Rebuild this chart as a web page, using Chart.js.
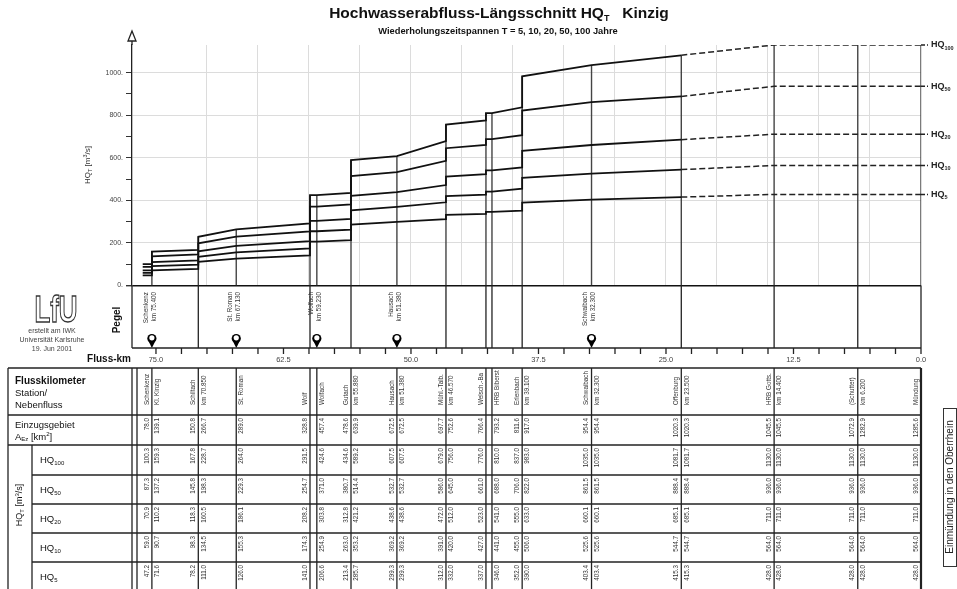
<!DOCTYPE html>
<html><head><meta charset="utf-8">
<script src="https://cdn.jsdelivr.net/npm/chart.js@4/dist/chart.umd.min.js"></script>
<style>html,body{margin:0;padding:0;background:#fff;overflow:hidden}canvas{display:block}</style>
</head><body>
<canvas id="c" width="957" height="589"></canvas>
<script>
// ---------------- data ----------------
const nodeKm = [75.4, 70.85, 67.13, 59.9, 59.23, 55.88, 51.38, 46.57, 42.65, 42.06, 39.1, 32.3, 23.5, 14.4, 6.2, 0.0];
const nodeIsPegel = [true, false, true, false, true, false, true, false, false, false, false, true, false, false, false, false];
const columnLabels = ["Schenkenz","Kl. Kinzig","Schiltach","km 70.850","St. Roman","Wolf","Wolfach","Gutach","km 55.880","Hausach","km 51.380","Mühl.-Talb.","km 46.570","Welsch.-Ba","HRB Biberst","Erlenbach","km 39.100","Schwaibach","km 32.300","Offenburg","km 23.500","HRB Gotts.","km 14.400","(Schutter)","km 6.200","Mündung"];
const columnNode = [0,0,1,1,2,3,4,5,5,6,6,7,7,8,9,10,10,11,11,12,12,13,13,14,14,15];
const columnSide = ["up","down","up","down","down","up","down","up","down","up","down","up","down","up","down","up","down","up","down","up","down","up","down","up","down","up"];
const ezg   = [78.0,139.1,150.8,266.7,289.0,328.8,457.4,478.6,639.9,672.5,672.5,697.7,752.6,766.4,793.2,811.6,917.0,954.4,954.4,1020.3,1020.3,1045.5,1045.5,1072.9,1282.9,1285.6];
const hq100 = [100.3,159.3,167.8,228.7,264.0,291.5,424.6,434.6,589.2,607.5,607.5,679.0,756.0,776.0,810.0,837.0,983.0,1035.0,1035.0,1081.7,1081.7,1130.0,1130.0,1130.0,1130.0,1130.0];
const hq50  = [87.3,137.2,145.8,198.3,229.3,254.7,371.0,380.7,514.4,532.7,532.7,586.0,645.0,661.0,688.0,706.0,822.0,861.5,861.5,888.4,888.4,936.0,936.0,936.0,936.0,936.0];
const hq20  = [70.9,110.2,118.3,160.5,186.1,208.2,303.8,312.8,421.2,438.6,438.6,472.0,512.0,523.0,541.0,555.0,633.0,660.1,660.1,685.1,685.1,711.0,711.0,711.0,711.0,711.0];
const hq10  = [59.0,90.7,98.3,134.5,155.3,174.3,254.9,263.0,353.2,369.2,369.2,391.0,420.0,427.0,441.0,455.0,506.0,525.6,525.6,544.7,544.7,564.0,564.0,564.0,564.0,564.0];
const hq5   = [47.2,71.6,78.2,111.0,126.0,141.0,206.6,213.4,285.7,299.3,299.3,312.0,332.0,337.0,346.0,352.0,390.0,403.4,403.4,415.3,415.3,428.0,428.0,428.0,428.0,428.0];
const seriesSub = ["100","50","20","10","5"];
const startKm = 76.3;      // upstream start of profile
const dashFromKm = 23.5;   // profile is dashed downstream of this km
const pegelNames = ["Schenkenz","St. Roman","Wolfach","Hausach","Schwaibach"];
const pegelKmText = ["km 75.400","km 67.130","km 59.230","km 51.380","km 32.300"];
const pegelKm = [75.4, 67.13, 59.23, 51.38, 32.3];
const yTickValues = [0, 200, 400, 600, 800, 1000];
const yTickLabels = ["0.", "200.", "400.", "600.", "800.", "1000."];
const fkmTickValues = [75, 62.5, 50, 37.5, 25, 12.5, 0];
const fkmTickLabels = ["75.0", "62.5", "50.0", "37.5", "25.0", "12.5", "0.0"];

// ---------------- build datasets ----------------
const FONT = '"Liberation Sans", Arial, sans-serif';
function profile(vals) {
  const pts = [{x: startKm, y: vals[0]}];
  for (let i = 0; i < vals.length; i++) {
    const km = nodeKm[columnNode[i]];
    pts.push({x: km, y: vals[i]});
    if (columnSide[i] === 'up' && i + 1 < vals.length && columnSide[i+1] === 'down' && columnNode[i+1] !== columnNode[i]) {
      pts.push({x: km, y: vals[i+1]});
    }
  }
  return pts;
}
const allSeries = [hq100, hq50, hq20, hq10, hq5];
const profiles = allSeries.map(profile);
const datasets = [];
profiles.forEach((p, i) => {
  datasets.push({label: 'HQ' + seriesSub[i], data: p.filter(q => q.x >= dashFromKm), borderColor: '#111', borderWidth: 1.8, pointRadius: 0, tension: 0, fill: false});
  datasets.push({label: 'HQ' + seriesSub[i] + ' (proj.)', data: p.filter(q => q.x <= dashFromKm), borderColor: '#222', borderWidth: 1.5, borderDash: [6, 3], pointRadius: 0, tension: 0, fill: false});
});
const vData = [];
nodeKm.forEach(km => {
  const top = Math.max(...profiles[0].filter(q => q.x === km).map(q => q.y));
  vData.push({x: km, y: 0}, {x: km, y: top}, {x: km, y: null});
});
datasets.push({label: 'Knoten', data: vData, borderColor: '#444', borderWidth: 1.4, pointRadius: 0, spanGaps: false, fill: false});

// ---------------- drawing helpers ----------------
function rich(ctx, parts, x, y, align) {
  let w = 0;
  parts.forEach(p => { ctx.font = p.f; w += ctx.measureText(p.t).width; });
  let cx = align === 'center' ? x - w / 2 : (align === 'right' ? x - w : x);
  ctx.textAlign = 'left';
  parts.forEach(p => { ctx.font = p.f; ctx.fillText(p.t, cx, y + (p.dy || 0)); cx += ctx.measureText(p.t).width; });
}
function vtext(ctx, text, x, y, align, font, color) {
  ctx.save(); ctx.translate(x, y); ctx.rotate(-Math.PI / 2);
  ctx.font = font; ctx.fillStyle = color || '#222'; ctx.textAlign = align; ctx.textBaseline = 'middle';
  ctx.fillText(text, 0, 0); ctx.restore();
}
function line(ctx, x1, y1, x2, y2) { ctx.beginPath(); ctx.moveTo(x1, y1); ctx.lineTo(x2, y2); ctx.stroke(); }

const decor = {
  id: 'decor',
  afterDraw(chart) {
    const ctx = chart.ctx, xs = chart.scales.x, ys = chart.scales.y, A = chart.chartArea;
    const X = km => xs.getPixelForValue(km);
    ctx.save();
    ctx.fillStyle = '#111'; ctx.strokeStyle = '#111';
    // title
    ctx.textBaseline = 'alphabetic';
    rich(ctx, [{t: 'Hochwasserabfluss-Längsschnitt HQ', f: 'bold 15.5px ' + FONT}, {t: 'T', f: 'bold 9px ' + FONT, dy: 3}, {t: '   Kinzig', f: 'bold 15.5px ' + FONT}], 499, 18, 'center');
    rich(ctx, [{t: 'Wiederholungszeitspannen T = 5, 10, 20, 50, 100 Jahre', f: 'bold 9.3px ' + FONT}], 498, 34, 'center');
    // y axis extension + arrow
    ctx.lineWidth = 1.3; ctx.strokeStyle = '#222';
    line(ctx, A.left, A.top, A.left, 41);
    ctx.beginPath(); ctx.moveTo(A.left, 31); ctx.lineTo(A.left - 4, 41); ctx.lineTo(A.left + 4, 41); ctx.closePath(); ctx.stroke();
    // y title
    ctx.save(); ctx.translate(88, 165); ctx.rotate(-Math.PI / 2); ctx.fillStyle = '#333'; ctx.textBaseline = 'middle';
    rich(ctx, [{t: 'HQ', f: '8px ' + FONT}, {t: 'T', f: '5.5px ' + FONT, dy: 2}, {t: ' [m', f: '8px ' + FONT}, {t: '3', f: '5.5px ' + FONT, dy: -2.5}, {t: '/s]', f: '8px ' + FONT}], 0, 0, 'center');
    ctx.restore();
    // right labels of the profiles
    ctx.fillStyle = '#222'; ctx.textBaseline = 'middle'; ctx.strokeStyle = '#222'; ctx.lineWidth = 1.5;
    allSeries.forEach((s, i) => {
      const y = ys.getPixelForValue(s[s.length - 1]);
      ctx.setLineDash([4, 2]); line(ctx, A.right, y, A.right + 7, y); ctx.setLineDash([]);
      rich(ctx, [{t: 'HQ', f: 'bold 9px ' + FONT}, {t: seriesSub[i], f: 'bold 5.5px ' + FONT, dy: 3}], A.right + 10, y, 'left');
    });
    // Pegel box
    const pTop = A.bottom, pBot = 348;
    ctx.strokeStyle = '#222'; ctx.lineWidth = 1.3;
    line(ctx, A.left, pTop, A.left, pBot);
    nodeKm.forEach((km, n) => { if (!nodeIsPegel[n]) line(ctx, X(km), pTop, X(km), pBot); });
    pegelKm.forEach((km, i) => {
      const x = X(km);
      vtext(ctx, pegelNames[i], x - 6, 292, 'right', '6.3px ' + FONT, '#333');
      vtext(ctx, pegelKmText[i], x + 2, 292, 'right', '6.3px ' + FONT, '#333');
      ctx.fillStyle = '#000';
      ctx.beginPath(); ctx.arc(x, 338.5, 4.6, 0, Math.PI * 2); ctx.fill();
      ctx.beginPath(); ctx.moveTo(x - 3.2, 341.5); ctx.lineTo(x + 3.2, 341.5); ctx.lineTo(x, 348); ctx.closePath(); ctx.fill();
      ctx.fillStyle = '#fff'; ctx.beginPath(); ctx.arc(x, 337.8, 2.6, 0, Math.PI * 2); ctx.fill();
    });
    vtext(ctx, 'Pegel', 117, 320, 'center', 'bold 10px ' + FONT, '#111');
    // Fluss-km axis
    ctx.strokeStyle = '#222'; ctx.lineWidth = 1.3;
    line(ctx, A.left, pBot, A.right, pBot);
    for (let km = 0; km <= xs.max; km += 2.5) { const x = X(km); line(ctx, x, pBot, x, pBot + 6); }
    ctx.fillStyle = '#444'; ctx.font = '7.5px ' + FONT; ctx.textAlign = 'center'; ctx.textBaseline = 'middle';
    fkmTickValues.forEach((v, i) => ctx.fillText(fkmTickLabels[i], X(v), 359.5));
    ctx.fillStyle = '#111'; ctx.font = 'bold 10px ' + FONT; ctx.textAlign = 'right';
    ctx.fillText('Fluss-km', 131, 359);
    // Logo + credits
    ctx.save(); ctx.translate(56, 322); ctx.scale(0.72, 1.05);
    ctx.strokeStyle = '#333'; ctx.lineWidth = 1.3; ctx.font = 'bold 36px ' + FONT; ctx.textAlign = 'center'; ctx.textBaseline = 'alphabetic';
    ctx.strokeText('LfU', 0, 0);
    ctx.restore();
    ctx.fillStyle = '#444'; ctx.font = '7px ' + FONT; ctx.textAlign = 'center'; ctx.textBaseline = 'middle';
    ctx.fillText('erstellt am IWK', 52, 331); ctx.fillText('Universität Karlsruhe', 52, 340); ctx.fillText('19. Jun 2001', 52, 349);
    // Table
    const rows = [368, 415, 445, 475, 504, 533, 562, 591];
    ctx.strokeStyle = '#222'; ctx.lineWidth = 1.3;
    line(ctx, 8, 368, A.right, 368); line(ctx, 8, 415, A.right, 415); line(ctx, 8, 445, A.right, 445);
    for (let r = 3; r < 7; r++) line(ctx, 32, rows[r], A.right, rows[r]);
    line(ctx, 8, 368, 8, 591); line(ctx, 32, 445, 32, 591); line(ctx, 132, 368, 132, 591); line(ctx, 137, 368, 137, 591);
    nodeKm.forEach(km => line(ctx, X(km), 368, X(km), 591));
    ctx.lineWidth = 2.2; line(ctx, A.right, 368, A.right, 591);
    // table header labels
    ctx.fillStyle = '#111'; ctx.textAlign = 'left'; ctx.textBaseline = 'middle';
    ctx.font = 'bold 10px ' + FONT; ctx.fillText('Flusskilometer', 15, 381);
    ctx.font = '9.5px ' + FONT; ctx.fillText('Station/', 15, 393); ctx.fillText('Nebenfluss', 15, 405);
    ctx.fillText('Einzugsgebiet', 15, 425);
    rich(ctx, [{t: 'A', f: '9.5px ' + FONT}, {t: 'Ez', f: '6px ' + FONT, dy: 2.5}, {t: ' [km', f: '9.5px ' + FONT}, {t: '2', f: '6px ' + FONT, dy: -3}, {t: ']', f: '9.5px ' + FONT}], 15, 437, 'left');
    seriesSub.forEach((s, i) => {
      const yc = (rows[2 + i] + rows[3 + i]) / 2 + 0.5;
      rich(ctx, [{t: 'HQ', f: '9.5px ' + FONT}, {t: s, f: '6px ' + FONT, dy: 3}], 40, yc, 'left');
    });
    ctx.save(); ctx.translate(20, 505); ctx.rotate(-Math.PI / 2); ctx.textBaseline = 'middle'; ctx.fillStyle = '#111';
    rich(ctx, [{t: 'HQ', f: '9px ' + FONT}, {t: 'T', f: '6px ' + FONT, dy: 2.5}, {t: ' [m', f: '9px ' + FONT}, {t: '3', f: '6px ' + FONT, dy: -3}, {t: '/s]', f: '9px ' + FONT}], 0, 0, 'center');
    ctx.restore();
    // table columns
    const rowVals = [ezg, hq100, hq50, hq20, hq10, hq5];
    columnLabels.forEach((lab, i) => {
      const cx = X(nodeKm[columnNode[i]]) + (columnSide[i] === 'up' ? -5 : 5.5);
      ctx.save(); ctx.beginPath(); ctx.rect(cx - 6, 369, 12, 46); ctx.clip();
      vtext(ctx, lab, cx, 405, 'left', '6.3px ' + FONT, '#333');
      ctx.restore();
      rowVals.forEach((arr, r) => vtext(ctx, arr[i].toFixed(1), cx, rows[1 + r] + 3, 'right', '6.3px ' + FONT, '#333'));
    });
    // Einmündung box
    ctx.strokeStyle = '#333'; ctx.lineWidth = 1;
    ctx.strokeRect(943.5, 408.5, 13, 158);
    vtext(ctx, 'Einmündung in den Oberrhein', 950, 487, 'center', '10px ' + FONT, '#222');
    ctx.restore();
  }
};

new Chart(document.getElementById('c'), {
  type: 'line',
  data: {datasets},
  options: {
    responsive: false, animation: false, devicePixelRatio: 1,
    layout: {padding: {left: 0, right: 36, top: 45, bottom: 303.5}},
    plugins: {legend: {display: false}, title: {display: false}, tooltip: {enabled: false}},
    scales: {
      x: {
        type: 'linear', reverse: true, min: 0, max: 77.35,
        ticks: {display: false, stepSize: 5},
        afterBuildTicks: s => { s.ticks = s.ticks.filter(t => Math.abs(t.value % 5) < 1e-6); },
        afterFit: s => { s.height = 0; },
        grid: {color: '#dcdcdc', lineWidth: 1, drawTicks: false},
        border: {display: false}
      },
      y: {
        type: 'linear', min: 0, max: 1130,
        ticks: {stepSize: 100, autoSkip: false, color: '#444', font: {size: 7, family: FONT}, padding: 3,
          callback: v => { const i = yTickValues.indexOf(v); return i >= 0 ? yTickLabels[i] : ''; }},
        afterBuildTicks: s => { s.ticks = s.ticks.filter(t => t.value % 100 === 0); },
        afterFit: s => { s.width = 132; },
        grid: {
          color: c => c.tick && c.tick.value === 0 ? '#111' : (c.tick && c.tick.value % 200 === 0 ? '#dcdcdc' : 'rgba(0,0,0,0)'),
          lineWidth: c => c.tick && c.tick.value === 0 ? 1.4 : 1,
          tickColor: '#333', tickLength: 6
        },
        border: {display: true, color: '#222', width: 1.3}
      }
    }
  },
  plugins: [decor]
});
</script>
</body></html>
